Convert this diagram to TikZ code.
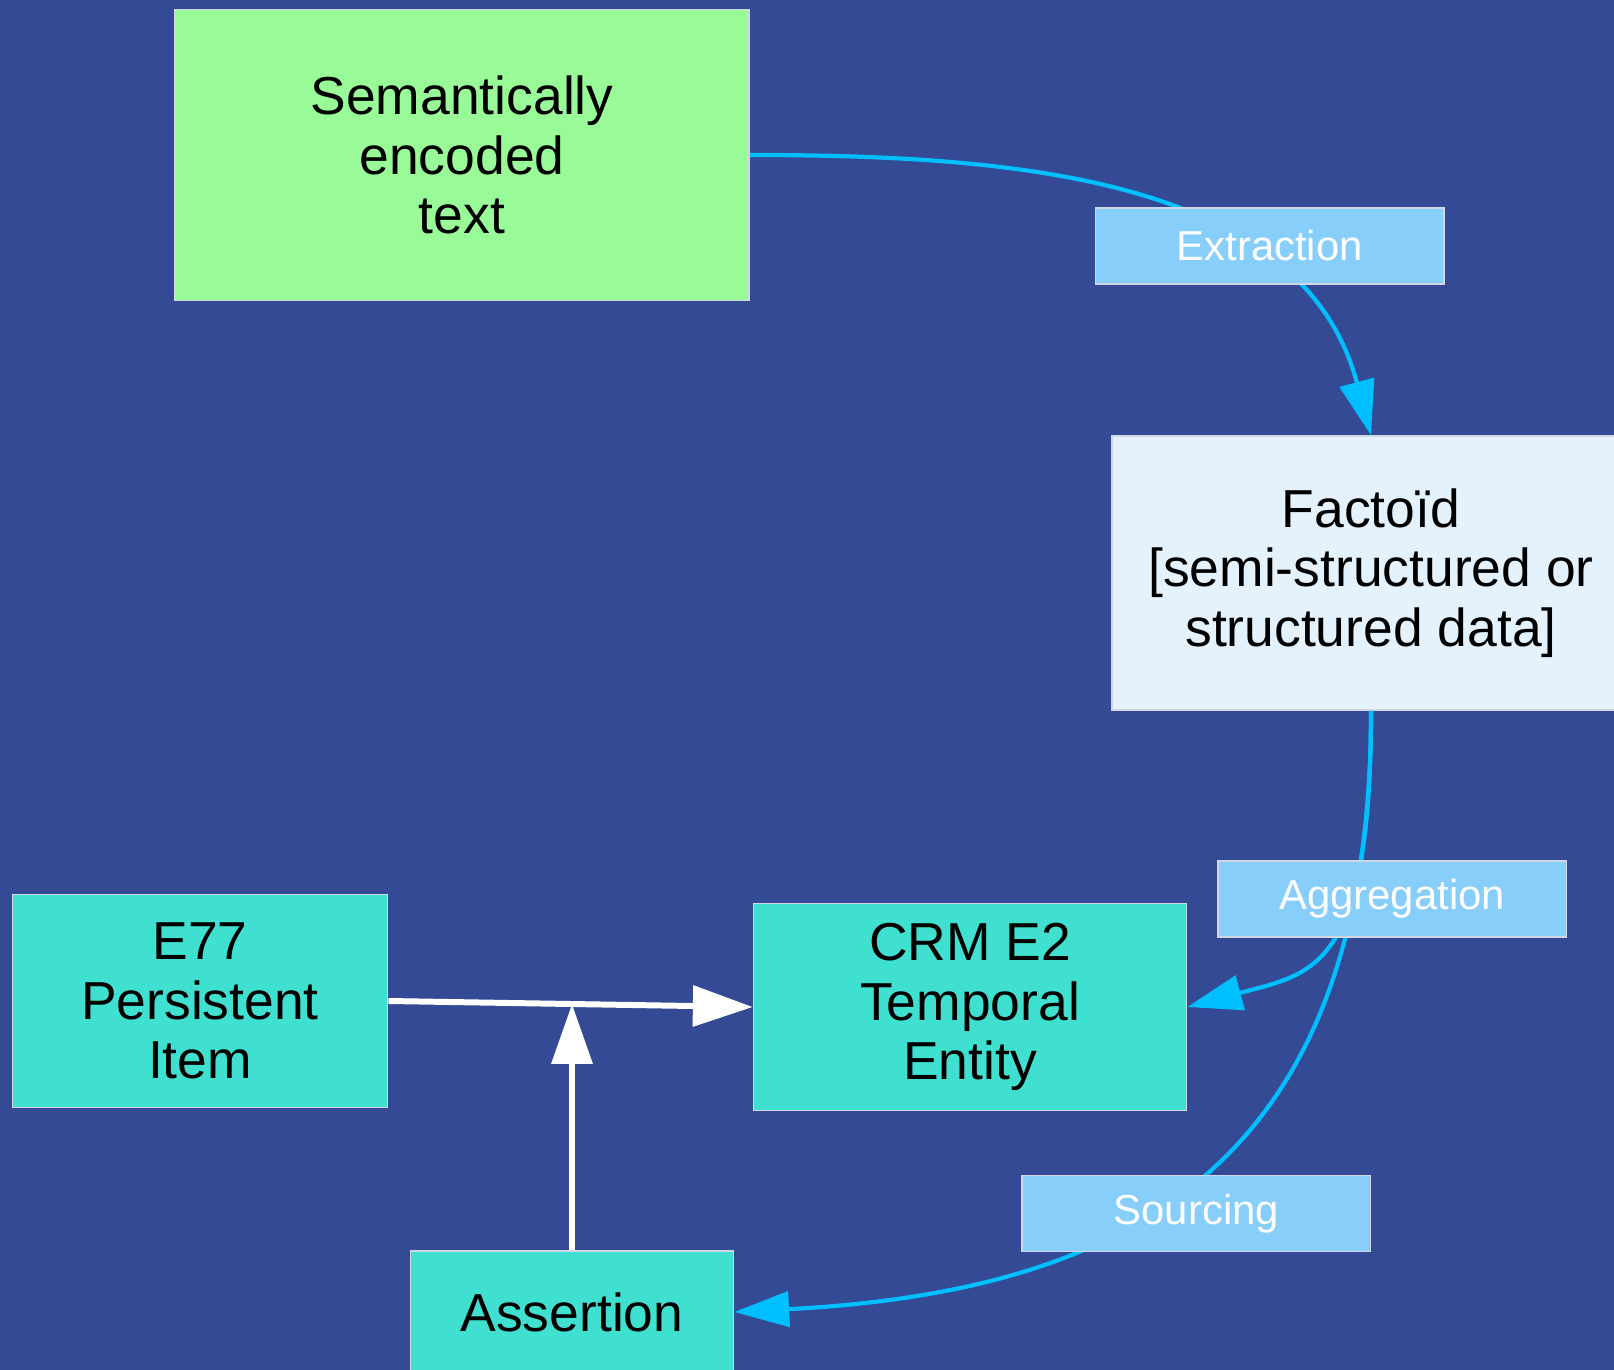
\documentclass[tikz,border=0pt]{standalone}
\usepackage{fontspec}
\setmainfont{Liberation Sans}
\usetikzlibrary{arrows.meta}

\definecolor{slideblue}{RGB}{52,74,148}
\definecolor{palegreen}{RGB}{152,251,152}
\definecolor{factoidfill}{RGB}{227,242,253}
\definecolor{turq}{RGB}{64,224,208}
\definecolor{tagblue}{RGB}{135,206,250}
\definecolor{flowblue}{RGB}{0,191,255}
\definecolor{boxedge}{RGB}{210,215,232}

\begin{document}
\begin{tikzpicture}[x=0.01cm, y=-0.01cm,
  box/.style={draw=boxedge, line width=0.4pt, align=center, inner sep=0pt,
    text=black, font=\fontsize{15.2}{17}\selectfont},
  tag/.style={fill=tagblue, draw=boxedge, line width=0.4pt, text=white,
    font=\fontsize{11.9}{14}\selectfont, minimum width=3.48cm,
    minimum height=0.76cm, inner sep=0pt},
  flow/.style={draw=flowblue, line width=1.2pt, -{Triangle[length=15.6pt,width=10pt]}},
  relation/.style={draw=white, line width=1.7pt, -{Triangle[length=17pt,width=11.4pt]}}]

\useasboundingbox (0,0) rectangle (1614,1370);
\clip (0,0) rectangle (1614,1370);

% Background
\fill[slideblue] (0,0) rectangle (1614,1370);

% Boxes
\node[box, fill=palegreen, minimum width=5.74cm, minimum height=2.91cm] (encoded) at (462,155) {Semantically\\encoded\\text};
\node[box, fill=factoidfill, minimum width=5.18cm, minimum height=2.74cm] (factoid) at (1371,573) {Factoïd\\{}[semi-structured or\\structured data]};
\node[box, fill=turq, minimum width=4.33cm, minimum height=2.07cm] (crm) at (970,1007) {CRM E2\\Temporal\\Entity};
\node[box, fill=turq, minimum width=3.75cm, minimum height=2.13cm] (e77) at (200,1001) {E77\\Persistent\\Item};
\node[box, fill=turq, minimum width=3.23cm, minimum height=1.22cm] (assertion) at (572,1312) {Assertion};

% CRM links
\path (e77.east) -- (crm.west) coordinate[pos=0.5] (join);
\draw[relation] (e77.east) -- (crm.west);
\draw[relation] (assertion.north) -- (assertion.north |- join);

% Workflow
\draw[flow] (encoded.east) to[out=0, in=105] node[tag, pos=0.66, xshift=0.35cm] (extraction) {Extraction} (factoid.north);
\draw[flow] (factoid.south) to[out=-90, in=3, out distance=4.5cm, in distance=4cm] node[tag, pos=0.55, xshift=0.28cm, yshift=-0.15cm] (sourcing) {Sourcing} (assertion.east);
\draw[flow] (factoid.south) to[out=-90, in=15, out distance=2.6cm, in distance=1.3cm] node[tag, pos=0.3, xshift=0.37cm, yshift=-0.16cm] (aggregation) {Aggregation} (crm.east);

\end{tikzpicture}
\end{document}
